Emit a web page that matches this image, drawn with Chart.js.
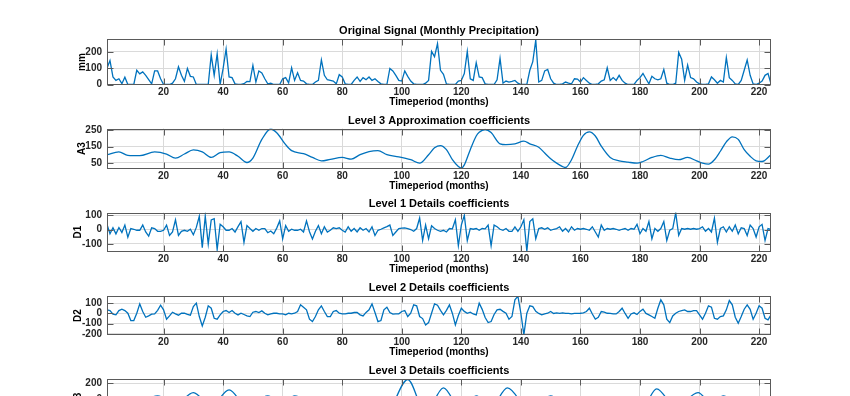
<!DOCTYPE html>
<html><head><meta charset="utf-8">
<script src="https://cdn.jsdelivr.net/npm/chart.js@4"></script>
<style>
html,body{margin:0;padding:0;background:#fff;overflow:hidden;width:850px;height:396px}
.p{position:absolute;left:0;width:850px}
</style></head>
<body>
<div class="p" id="w1"><canvas id="c1"></canvas></div>
<div class="p" id="w2"><canvas id="c2"></canvas></div>
<div class="p" id="w3"><canvas id="c3"></canvas></div>
<div class="p" id="w4"><canvas id="c4"></canvas></div>
<div class="p" id="w5"><canvas id="c5"></canvas></div>
<script>
// ---- data ----
const months = Array.from({length:224},(_,i)=>i+1);
const xTicks = [20,40,60,80,100,120,140,160,180,200,220];
const xLabel = 'Timeperiod (months)';
const titles = ['Original Signal (Monthly Precipitation)','Level 3 Approximation coefficients','Level 1 Details coefficients','Level 2 Details coefficients','Level 3 Details coefficients'];
const yLabels = ['mm','A3','D1','D2','D3'];
const yTicksSignal = [0,100,200];
const yTicksA3 = [50,150,250];
const yTicksD1 = [-100,0,100];
const yTicksD2 = [-200,-100,0,100];
const yTicksD3 = [-200,0,200];

const precip = [100,146,46,25,35,5,45,0,0,0,87,65,77,56,30,4,83,83,35,0,
0,0,8,35,108,56,19,98,50,46,0,0,0,0,0,181,56,187,0,98,
217,46,42,4,0,0,5,19,18,117,15,83,71,35,4,8,0,0,0,35,
42,10,102,25,71,25,21,4,0,0,15,25,150,56,29,25,21,4,60,46,
4,0,0,25,46,19,42,29,46,25,35,19,4,0,0,98,83,56,25,21,
83,50,21,4,0,0,0,8,25,202,170,250,87,62,4,0,0,0,21,25,
67,202,35,25,133,46,42,4,0,0,0,29,160,8,21,15,19,25,8,0,
0,0,87,140,272,15,25,83,92,35,8,0,0,4,15,8,4,35,33,15,
42,25,8,0,0,4,21,29,102,25,42,25,56,25,8,0,0,0,25,42,
67,35,4,50,35,29,35,92,8,0,0,8,196,154,25,119,42,35,15,4,
0,0,4,46,29,8,25,15,165,42,25,4,0,25,87,150,56,4,0,8,
21,56,67,4];

const a3Months = [1,5,8,12,17,21,24,27,30,33,36,39,42,45,48,50,53,56,58,61,63,67,70,73,76,80,83,86,89,92,95,99,103,106,109,111,113,115,117,119,120,121,123,125,126,128,130,133,135,138,141,143,146,148,150,152,154,155,157,159,161,163,165,167,170,173,176,179,181,184,187,190,193,196,199,201,203,205,207,209,211,213,215,217,219,221,224];
const a3Values = [100,117,96,94,117,104,79,104,129,117,83,112,117,90,52,79,194,258,235,162,125,106,83,62,71,83,73,100,119,125,100,87,69,48,100,142,156,131,69,27,17,37,131,215,238,255,236,167,162,167,183,167,146,110,75,48,27,21,69,152,219,240,215,152,83,62,54,48,58,83,96,79,69,83,62,48,42,69,121,179,210,194,131,90,62,58,100];

const d1 = [36,-29,12,-30,14,-20,31,-53,7,2,-5,-5,31,-17,-46,12,7,-12,-12,-5,
31,-41,-17,67,-41,-12,-5,-12,2,-36,15,92,-125,92,-101,67,75,-138,36,19,
-5,-5,7,-17,20,55,-89,27,7,-12,7,-5,7,7,-22,-10,-29,10,60,-65,
27,-12,2,-5,-5,2,-17,60,-15,-65,-12,27,-29,19,-17,-5,12,7,12,-5,
-17,19,-12,7,-17,12,-5,7,-17,19,-41,-5,2,12,20,31,-41,-17,7,10,
12,7,0,-12,7,80,-76,31,-64,26,7,-5,-12,-5,-17,7,5,67,-112,31,
98,-76,7,2,7,-5,7,5,31,-112,31,19,2,-5,7,-12,-12,19,-12,19,
67,-150,55,74,-64,7,12,2,12,-5,2,7,19,-12,7,-17,19,-5,7,2,
7,2,-5,19,-17,-52,31,-5,7,2,7,2,-5,2,7,-5,7,2,36,-29,
7,-12,55,-64,7,-12,7,55,-76,-5,7,116,-40,7,2,7,2,7,2,7,
19,-12,7,-17,79,-88,7,19,-17,19,-12,31,-29,12,7,-41,31,7,-52,19,
36,-76,7,0];

const d2 = [35,28,-7,-14,28,41,28,2,-69,-69,2,93,19,-37,-24,-7,-4,30,80,35,
-56,-24,12,-4,-17,2,2,-10,-17,67,100,-30,-121,-37,74,51,-47,-56,-14,19,
28,9,28,2,-14,2,-10,-24,-30,12,19,9,25,2,-14,-4,2,2,-4,-4,
-14,2,-4,2,19,84,60,35,-56,-79,-30,35,74,19,-30,-30,19,28,2,-4,
-4,2,2,9,9,-14,-24,10,35,93,9,-79,-69,35,61,9,-7,-4,-4,19,
28,-30,2,84,74,-30,-50,-112,-89,2,93,80,30,-14,30,84,0,-112,-20,51,
20,2,12,-5,-14,100,40,-40,-89,-79,-10,35,41,20,2,-56,-30,133,168,2,
-208,2,74,67,20,0,-14,-5,2,19,0,6,0,6,0,0,-5,0,0,2,
6,19,51,-5,-56,-37,19,12,2,0,-5,-5,19,51,0,-47,-5,6,-10,20,
41,0,-14,-30,-47,51,133,84,-56,-89,-24,2,19,28,35,19,19,28,28,-14,
-56,2,74,61,-47,-56,-30,-24,35,126,84,-37,-96,-30,41,84,40,-56,2,74,
51,-47,-63,-14];

const d3Months = [1,2,10,18,24,30,36,42,48,55,60,64,71,77.5,83,87.5,95,102,108,114,120,125,130,135.5,143,150,155,161,166,171,174,176.5,181,185.6,192,199.5,204,208,213,217.2,221,224];
const d3Values = [5,12,-60,41,-70,83,-90,118,-100,41,-50,41,-60,12,-50,0,-150,249,-180,142,-150,41,-100,142,-150,41,-60,12,-40,0,-20,0,-90,130,-110,83,-60,41,-50,30,-40,-10];

// ---- styling ----
const FONT = '"Liberation Sans", Arial, Helvetica, sans-serif';
const LINE = '#0072BD';
const GRID = '#dadada';
const AXC = '#5a5a5a';
const TXT = '#262626';

const toXY = (xs, ys) => ys.map((v,i)=>({x:xs[i], y:v}));

const panels = [
  {id:'1', data:toXY(months,precip), smooth:false, ymin:0, ymax:275, yt:yTicksSignal, titleY:31, top:39.5, bottom:84.5, ylabX:82},
  {id:'2', data:toXY(a3Months,a3Values), smooth:true, ymin:15, ymax:261, yt:yTicksA3, titleY:121, top:128.5, bottom:168.5, ylabX:82},
  {id:'3', data:toXY(months,d1), smooth:false, ymin:-152, ymax:118, yt:yTicksD1, titleY:204, top:212.5, bottom:251.5, ylabX:78.5},
  {id:'4', data:toXY(months,d2), smooth:false, ymin:-210, ymax:170, yt:yTicksD2, titleY:287.5, top:296, bottom:335, ylabX:78.5},
  {id:'5', data:toXY(d3Months,d3Values), smooth:true, ymin:-250, ymax:250, yt:yTicksD3, titleY:370.5, top:379.5, bottom:418.5, ylabX:78.5}
];

const boxPlugin = {
  id:'mbox',
  afterDraw(chart){
    const {ctx, chartArea:a, scales:{x,y}} = chart;
    const L = 6;
    ctx.save();
    ctx.strokeStyle = AXC; ctx.lineWidth = 1;
    const l = Math.round(a.left)+0.5, r = Math.round(a.right)-0.5, t = Math.round(a.top)+0.5, b = Math.round(a.bottom)-0.5;
    ctx.strokeRect(l, t, r-l, b-t);
    ctx.beginPath();
    x.ticks.forEach(tk=>{
      const px = Math.round(x.getPixelForValue(tk.value))+0.5;
      ctx.moveTo(px,b); ctx.lineTo(px,b-L);
      ctx.moveTo(px,t); ctx.lineTo(px,t+L);
    });
    y.ticks.forEach(tk=>{
      const py = Math.round(y.getPixelForValue(tk.value))+0.5;
      ctx.moveTo(l,py); ctx.lineTo(l+L,py);
      ctx.moveTo(r,py); ctx.lineTo(r-L,py);
    });
    ctx.stroke();
    ctx.restore();
  }
};

panels.forEach((p,k)=>{
  const wrap = document.getElementById('w'+p.id);
  const lh = 13.2;
  const D = Math.floor(p.titleY - lh/2);
  const padTop = p.titleY - lh/2 - D;
  const padBottom = p.top - p.titleY - lh/2;
  const H = Math.round(p.bottom + 23 - D);
  const XH = H - (p.bottom - D);
  wrap.style.top = D + 'px';
  wrap.style.height = H + 'px';
  const tickFont = {family:FONT, size:10, weight:'bold', lineHeight:1.2};
  new Chart(document.getElementById('c'+p.id), {
    type:'line',
    data:{datasets:[{
      data:p.data, borderColor:LINE, borderWidth:1.3, pointRadius:0, pointHoverRadius:0, fill:false,
      tension: p.smooth ? 0.4 : 0, cubicInterpolationMode: p.smooth ? 'monotone' : 'default'
    }]},
    options:{
      responsive:true, maintainAspectRatio:false, animation:false, devicePixelRatio:1,
      layout:{padding:{left:0,right:79,top:0,bottom:0}},
      events:[],
      plugins:{
        legend:{display:false}, tooltip:{enabled:false},
        title:{display:true, fullSize:false, text:titles[k], color:'#000',
          font:{family:FONT, size:11, weight:'bold', lineHeight:1.2},
          padding:{top:padTop, bottom:padBottom}}
      },
      scales:{
        x:{type:'linear', min:1, max:224,
          afterBuildTicks:s=>{ s.ticks = xTicks.map(v=>({value:v})); },
          afterFit:s=>{ s.height = XH; },
          grid:{color:GRID, drawTicks:false, lineWidth:1},
          border:{display:false},
          ticks:{padding:1.5, color:TXT, font:tickFont, maxRotation:0, autoSkip:false},
          title:{display:true, text:xLabel, color:'#000', font:tickFont, padding:0}
        },
        y:{type:'linear', min:p.ymin, max:p.ymax,
          afterBuildTicks:s=>{ s.ticks = p.yt.map(v=>({value:v})); },
          afterFit:s=>{ s.width = 107; },
          grid:{color:GRID, drawTicks:false, lineWidth:1},
          border:{display:false},
          ticks:{padding:5, color:TXT, font:tickFont, autoSkip:false},
          title:{display:true, text:yLabels[k], color:'#000', font:tickFont, padding:{top:p.ylabX-6, bottom:0}}
        }
      }
    },
    plugins:[boxPlugin]
  });
});
</script>
</body></html>
